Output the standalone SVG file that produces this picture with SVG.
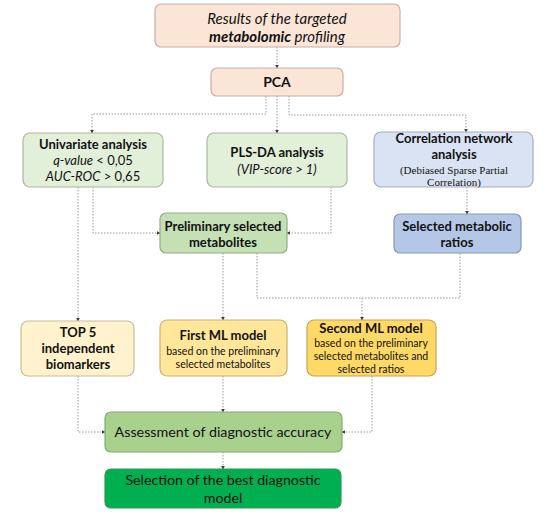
<svg xmlns="http://www.w3.org/2000/svg" width="557" height="525" viewBox="0 0 557 525">
<defs>
<marker id="ah" viewBox="0 0 6 6" refX="5" refY="3" markerWidth="4" markerHeight="4" orient="auto">
<path d="M0,0 L6,3 L0,6 z" fill="#404040"/>
</marker>
<style>
.box{stroke-width:1.2}
.t{font-family:Lato,"Open Sans","Liberation Sans",sans-serif;fill:#111;text-anchor:middle}
.b{font-weight:bold}
.i{font-style:italic}
.sr{font-family:"Liberation Serif",serif}
.c{fill:none;stroke:#9a9a9a;stroke-width:1;stroke-dasharray:1.5 1.5;marker-end:url(#ah)}
</style>
</defs>
<rect width="557" height="525" fill="#fff"/>
<g id="connectors">
<path class="c" d="M277,47 V68"/>
<path class="c" d="M266,96 V114 H92 V133"/>
<path class="c" d="M277,96 V133"/>
<path class="c" d="M289,96 V115 H466 V132"/>
<path class="c" d="M93,187 V233 H160"/>
<path class="c" d="M331,187 V233 H287"/>
<path class="c" d="M467,187 V214"/>
<path class="c" d="M78,187 V321"/>
<path class="c" d="M223,253 V320"/>
<path class="c" d="M257,253 V298 H460 V253" style="marker-end:none"/>
<path class="c" d="M362,298 V320"/>
<path class="c" d="M78,376 V432 H105"/>
<path class="c" d="M223,376 V412"/>
<path class="c" d="M372,376 V432 H342"/>
<path class="c" d="M223,452 V469"/>
</g>
<g id="results">
<rect class="box" x="155" y="4" width="245" height="43" rx="6" fill="#fbe5d6" stroke="#c8b0a4"/>
<text class="t i" x="277" y="24" font-size="15">Results of the targeted</text>
<text class="t i" x="277" y="42" font-size="15"><tspan class="b">metabolomic</tspan> profiling</text>
</g>
<g id="pca">
<rect class="box" x="211" y="68" width="132" height="28" rx="6" fill="#fbe5d6" stroke="#c8b0a4"/>
<text class="t b" x="277" y="87" font-size="14">PCA</text>
</g>
<g id="univariate">
<rect class="box" x="23" y="133" width="140" height="54" rx="7" fill="#e2efd9" stroke="#a9b8a0"/>
<text class="t b" x="93" y="149" font-size="13">Univariate analysis</text>
<text class="t" x="93" y="165" font-size="13"><tspan class="i">q-value</tspan> &lt; 0,05</text>
<text class="t" x="93" y="181" font-size="13"><tspan class="i">AUC-ROC</tspan> &gt; 0,65</text>
</g>
<g id="plsda">
<rect class="box" x="207" y="133" width="140" height="54" rx="7" fill="#e2efd9" stroke="#a9b8a0"/>
<text class="t b" x="277" y="157" font-size="13">PLS-DA analysis</text>
<text class="t i" x="277" y="174" font-size="13">(VIP-score &gt; 1)</text>
</g>
<g id="correlation">
<rect class="box" x="374" y="132" width="159" height="55" rx="7" fill="#dae3f3" stroke="#a3adc2"/>
<text class="t b" x="454" y="143" font-size="13">Correlation network</text>
<text class="t b" x="454" y="159" font-size="13">analysis</text>
<text class="t sr" x="454" y="174" font-size="11">(Debiased Sparse Partial</text>
<text class="t sr" x="454" y="186" font-size="11">Correlation)</text>
</g>
<g id="preliminary">
<rect class="box" x="160" y="213" width="127" height="40" rx="6" fill="#c5e0b4" stroke="#93ad83"/>
<text class="t b" x="223" y="231" font-size="13">Preliminary selected</text>
<text class="t b" x="223" y="247" font-size="13">metabolites</text>
</g>
<g id="ratios">
<rect class="box" x="394" y="214" width="127" height="39" rx="6" fill="#b4c7e7" stroke="#8697b8"/>
<text class="t b" x="457" y="231" font-size="13">Selected metabolic</text>
<text class="t b" x="457" y="247" font-size="13">ratios</text>
</g>
<g id="top5">
<rect class="box" x="21" y="321" width="113" height="55" rx="7" fill="#fff2cc" stroke="#c7bb98"/>
<text class="t b" x="78" y="337" font-size="13">TOP 5</text>
<text class="t b" x="78" y="353" font-size="13">independent</text>
<text class="t b" x="78" y="369" font-size="13">biomarkers</text>
</g>
<g id="firstml">
<rect class="box" x="160" y="320" width="127" height="56" rx="7" fill="#ffe699" stroke="#c8b170"/>
<text class="t b" x="223" y="340" font-size="13">First ML model</text>
<text class="t" x="223" y="355" font-size="10.5">based on the preliminary</text>
<text class="t" x="223" y="368" font-size="10.5">selected metabolites</text>
</g>
<g id="secondml">
<rect class="box" x="307" y="320" width="129" height="56" rx="7" fill="#ffd966" stroke="#c4a650"/>
<text class="t b" x="371" y="333" font-size="13">Second ML model</text>
<text class="t" x="371" y="347" font-size="10.5">based on the preliminary</text>
<text class="t" x="371" y="360" font-size="10.5">selected metabolites and</text>
<text class="t" x="371" y="373" font-size="10.5">selected ratios</text>
</g>
<g id="assessment">
<rect class="box" x="105" y="412" width="237" height="40" rx="6" fill="#a9d18e" stroke="#88a874"/>
<text class="t" x="223" y="437" font-size="14.3">Assessment of diagnostic accuracy</text>
</g>
<g id="selection">
<rect class="box" x="105" y="469" width="236" height="39" rx="6" fill="#00b050" stroke="#2f9a52"/>
<text class="t" x="223" y="485" font-size="14.2">Selection of the best diagnostic</text>
<text class="t" x="223" y="503" font-size="14.2">model</text>
</g>
</svg>
